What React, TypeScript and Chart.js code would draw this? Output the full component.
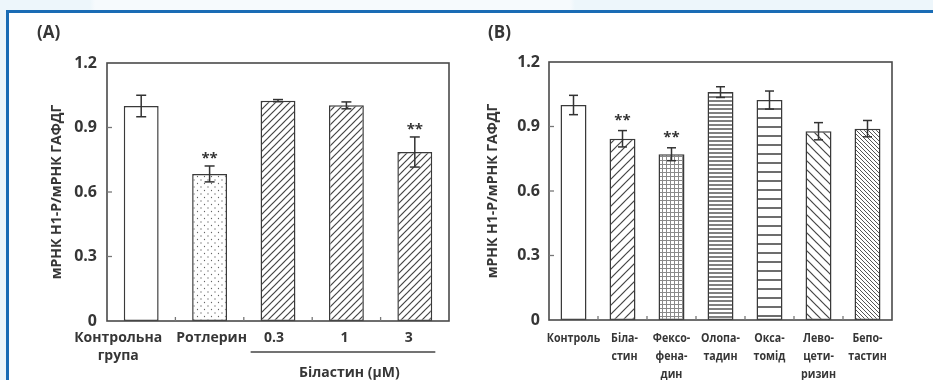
import React, { useEffect, useRef } from "react";
import { Chart, registerables } from "chart.js";
Chart.register(...registerables);

// ---------- data ----------
const catsA: (string | string[])[] = [["Контрольна", "група"], "Ротлерин", "0.3", "1", "3"];
const valsA = [1.0, 0.684, 1.025, 1.003, 0.786];
const errsA = [0.05, 0.037, 0.005, 0.016, 0.07];
const sigA = ["", "**", "", "", "**"];
const groupLabelA = "Біластин (µM)";
const titleA = "(A)";

const catsB: (string | string[])[] = [
  "Контроль",
  ["Біла-", "стин"],
  ["Фексо-", "фена-", "дин"],
  ["Олопа-", "тадин"],
  ["Окса-", "томід"],
  ["Лево-", "цети-", "ризин"],
  ["Бепо-", "тастин"],
];
const valsB = [1.0, 0.843, 0.771, 1.06, 1.023, 0.878, 0.89];
const errsB = [0.045, 0.038, 0.03, 0.025, 0.042, 0.04, 0.038];
const sigB = ["", "**", "**", "", "", "", ""];
const titleB = "(B)";

const yTicks = [0, 0.3, 0.6, 0.9, 1.2];
const yTickLabels = ["0", "0.3", "0.6", "0.9", "1.2"];
const yTitle = "мРНК H1-Р/мРНК ГАФДГ";

// ---------- styles ----------
const patternsA = ["none", "dots", "diag", "diag", "diag"];
const patternsB = ["none", "diag9", "grid", "hdense", "hsparse", "back", "backdense"];
const labelShiftA = [-23, 2, -4, -2, -6];
const labelShiftB = [0, 2, 0, 0, 0, 0, 0];

const INK = "#363636";
const FONT_WIDE = "'Open Sans', 'Noto Sans', 'DejaVu Sans', sans-serif";

function tile(w: number, h: number, draw: (ctx: CanvasRenderingContext2D) => void): CanvasPattern {
  const c = document.createElement("canvas");
  c.width = w;
  c.height = h;
  const ctx = c.getContext("2d")!;
  ctx.fillStyle = "#ffffff";
  ctx.fillRect(0, 0, w, h);
  draw(ctx);
  const main = document.createElement("canvas").getContext("2d")!;
  return main.createPattern(c, "repeat")!;
}

function seg(ctx: CanvasRenderingContext2D, x1: number, y1: number, x2: number, y2: number) {
  ctx.beginPath();
  ctx.moveTo(x1, y1);
  ctx.lineTo(x2, y2);
  ctx.stroke();
}

function makePattern(kind: string): CanvasPattern | string {
  const fwd = (s: number, lw: number, col: string) =>
    tile(s, s, (ctx) => {
      ctx.strokeStyle = col;
      ctx.lineWidth = lw;
      seg(ctx, -1, s + 1, s + 1, -1);
      seg(ctx, -1, 1, 1, -1);
      seg(ctx, s - 1, s + 1, s + 1, s - 1);
    });
  const back = (s: number, lw: number, col: string) =>
    tile(s, s, (ctx) => {
      ctx.strokeStyle = col;
      ctx.lineWidth = lw;
      seg(ctx, -1, -1, s + 1, s + 1);
      seg(ctx, -1, s - 1, 1, s + 1);
      seg(ctx, s - 1, -1, s + 1, 1);
    });
  switch (kind) {
    case "diag":
      return fwd(7, 1.2, "#444");
    case "diag9":
      return fwd(9, 1.2, "#444");
    case "back":
      return back(9, 1.2, "#444");
    case "backdense":
      return back(4, 1.0, "#555");
    case "grid":
      return tile(4, 4, (ctx) => {
        ctx.strokeStyle = "#8a8a8a";
        ctx.lineWidth = 1;
        seg(ctx, 0.5, 0, 0.5, 4);
        seg(ctx, 0, 0.5, 4, 0.5);
      });
    case "hdense":
      return tile(4, 4, (ctx) => {
        ctx.strokeStyle = "#3c3c3c";
        ctx.lineWidth = 1.3;
        seg(ctx, 0, 1, 4, 1);
      });
    case "hsparse":
      return tile(4, 9, (ctx) => {
        ctx.strokeStyle = "#3c3c3c";
        ctx.lineWidth = 1.5;
        seg(ctx, 0, 1, 4, 1);
      });
    case "dots":
      return tile(7, 7, (ctx) => {
        ctx.fillStyle = "#666";
        ctx.beginPath();
        ctx.arc(1.5, 1.5, 0.65, 0, Math.PI * 2);
        ctx.arc(5, 5, 0.65, 0, Math.PI * 2);
        ctx.fill();
      });
    default:
      return "#ffffff";
  }
}

type PanelOpts = {
  title: string;
  titleX: number;
  errs: number[];
  sig: string[];
  cap: number;
  sigGap: number;
  labelFont: string;
  labelScale: number;
  labelShift: number[];
  labelFirst: number;
  labelLine: number;
  group?: { label: string; from: number; to: number };
};

function decorPlugin(o: PanelOpts) {
  return {
    id: "decor",
    afterDatasetsDraw(chart: any) {
      const { ctx, chartArea: a, scales } = chart;
      const x = scales.x;
      const y = scales.y;
      const labels = chart.data.labels as (string | string[])[];
      const n = labels.length;
      const vals = chart.data.datasets[0].data as number[];
      ctx.save();
      ctx.strokeStyle = "#4a4a4a";
      ctx.lineWidth = 1.6;
      ctx.strokeRect(a.left, a.top, a.right - a.left, a.bottom - a.top);
      ctx.lineWidth = 1.3;
      ctx.strokeStyle = "#777";
      yTicks.forEach((v) => {
        if (v > yTicks[0] && v < yTicks[yTicks.length - 1]) {
          const py = y.getPixelForValue(v);
          seg(ctx, a.left, py, a.left + 5, py);
        }
      });
      for (let i = 1; i < n; i++) {
        const px = (x.getPixelForValue(i - 1) + x.getPixelForValue(i)) / 2;
        seg(ctx, px, a.bottom, px, a.bottom - 4);
      }
      // error bars
      ctx.strokeStyle = "#333";
      ctx.lineWidth = 1.5;
      const meta = chart.getDatasetMeta(0);
      meta.data.forEach((bar: any, i: number) => {
        const e = o.errs[i];
        const yt = y.getPixelForValue(vals[i] + e);
        const yb = y.getPixelForValue(vals[i] - e);
        const bx = bar.x;
        seg(ctx, bx, yt, bx, yb);
        seg(ctx, bx - o.cap, yt, bx + o.cap, yt);
        seg(ctx, bx - o.cap, yb, bx + o.cap, yb);
        if (o.sig[i]) {
          ctx.fillStyle = "#333";
          ctx.font = `bold 15px ${FONT_WIDE}`;
          ctx.textAlign = "center";
          ctx.textBaseline = "alphabetic";
          ctx.fillText(o.sig[i], bx, yt - o.sigGap);
        }
      });
      // category labels
      ctx.fillStyle = INK;
      ctx.font = o.labelFont;
      ctx.textAlign = "center";
      ctx.textBaseline = "middle";
      labels.forEach((lab, i) => {
        const lines = Array.isArray(lab) ? lab : [lab];
        const cx = x.getPixelForValue(i) + o.labelShift[i];
        lines.forEach((ln, k) => {
          ctx.save();
          ctx.translate(cx, a.bottom + o.labelFirst + k * o.labelLine);
          ctx.scale(o.labelScale, 1);
          ctx.fillText(ln, 0, 0);
          ctx.restore();
        });
      });
      // group bracket
      if (o.group) {
        const cw = x.getPixelForValue(1) - x.getPixelForValue(0);
        const x1 = x.getPixelForValue(o.group.from) - 0.4 * cw;
        const x2 = x.getPixelForValue(o.group.to) + 0.3 * cw;
        ctx.strokeStyle = "#444";
        ctx.lineWidth = 1.4;
        seg(ctx, x1, a.bottom + 31, x2, a.bottom + 31);
        ctx.fillStyle = INK;
        ctx.font = o.labelFont;
        ctx.textAlign = "center";
        ctx.textBaseline = "middle";
        ctx.fillText(o.group.label, x.getPixelForValue((o.group.from + o.group.to) / 2) + 3, a.bottom + 52);
      }
      // panel title
      ctx.fillStyle = INK;
      ctx.font = `bold 17px ${FONT_WIDE}`;
      ctx.textAlign = "left";
      ctx.textBaseline = "middle";
      ctx.fillText(o.title, o.titleX, 33);
      ctx.restore();
    },
  };
}

function buildConfig(
  labels: (string | string[])[],
  vals: number[],
  patterns: string[],
  p: {
    padRight: number;
    padTop: number;
    yWidth: number;
    xHeight: number;
    titlePad: number;
    tickPad: number;
    barPct: number;
  },
  decor: PanelOpts
): any {
  return {
    type: "bar",
    data: {
      labels,
      datasets: [
        {
          data: vals,
          backgroundColor: patterns.map(makePattern),
          borderColor: "#3a3a3a",
          borderWidth: 1.5,
          borderSkipped: false,
          barPercentage: p.barPct,
          categoryPercentage: 1,
        },
      ],
    },
    options: {
      responsive: false,
      animation: false,
      devicePixelRatio: 1,
      layout: { padding: { left: 0, right: p.padRight, top: p.padTop, bottom: 0 } },
      plugins: { legend: { display: false }, tooltip: { enabled: false }, title: { display: false } },
      scales: {
        x: {
          type: "category",
          offset: true,
          grid: { display: false, drawTicks: false },
          border: { display: false },
          ticks: { display: false },
          afterFit: (ax: any) => {
            ax.height = p.xHeight;
          },
        },
        y: {
          min: yTicks[0],
          max: yTicks[yTicks.length - 1],
          grid: { display: false, drawTicks: false },
          border: { display: false },
          afterBuildTicks: (ax: any) => {
            ax.ticks = yTicks.map((v) => ({ value: v }));
          },
          ticks: {
            color: INK,
            font: { family: FONT_WIDE, size: 16, weight: "bold" },
            padding: p.tickPad,
            callback: (_v: any, i: number) => yTickLabels[i],
          },
          title: {
            display: true,
            text: yTitle,
            color: INK,
            font: { family: FONT_WIDE, size: 14, weight: "bold" },
            padding: { top: p.titlePad, bottom: 0 },
          },
          afterFit: (ax: any) => {
            ax.width = p.yWidth;
          },
        },
      },
    },
    plugins: [decorPlugin(decor)],
  };
}

export default function App() {
  const refA = useRef<HTMLCanvasElement>(null);
  const refB = useRef<HTMLCanvasElement>(null);

  useEffect(() => {
    const chA = new Chart(
      refA.current!,
      buildConfig(
        catsA,
        valsA,
        patternsA,
        { padRight: 17, padTop: 63, yWidth: 107, xHeight: 59, titlePad: 48.6, tickPad: 10, barPct: 0.51 },
        {
          title: titleA,
          titleX: 37,
          errs: errsA,
          sig: sigA,
          cap: 5,
          sigGap: 3,
          labelFont: `bold 14px ${FONT_WIDE}`,
          labelScale: 1,
          labelShift: labelShiftA,
          labelFirst: 17,
          labelLine: 18,
          group: { label: groupLabelA, from: 2, to: 4 },
        }
      )
    );
    const chB = new Chart(
      refB.current!,
      buildConfig(
        catsB,
        valsB,
        patternsB,
        { padRight: 41, padTop: 62, yWidth: 83, xHeight: 60, titlePad: 18.6, tickPad: 9, barPct: 0.53 },
        {
          title: titleB,
          titleX: 22,
          errs: errsB,
          sig: sigB,
          cap: 4.5,
          sigGap: 6,
          labelFont: `bold 13px ${FONT_WIDE}`,
          labelScale: 0.82,
          labelShift: labelShiftB,
          labelFirst: 18,
          labelLine: 18,
        }
      )
    );
    return () => {
      chA.destroy();
      chB.destroy();
    };
  }, []);

  return (
    <div
      style={{
        position: "absolute",
        left: 0,
        top: 0,
        width: 933,
        height: 380,
        overflow: "hidden",
        background: "linear-gradient(to right, #edf6fb 0px, #edf6fb 90px, #f6fafd 95px, #f6fafd 570px, #edf6fb 575px)",
      }}
    >
      <div
        style={{
          position: "absolute",
          left: 6,
          top: 10,
          width: 927,
          height: 370,
          boxSizing: "border-box",
          background: "#ffffff",
          borderLeft: "3px solid #1a6cb5",
          borderTop: "3px solid #1a6cb5",
        }}
      />
      <canvas
        ref={refA}
        width={466}
        height={380}
        style={{ position: "absolute", left: 0, top: 0, width: 466, height: 380 }}
      />
      <canvas
        ref={refB}
        width={467}
        height={380}
        style={{ position: "absolute", left: 466, top: 0, width: 467, height: 380 }}
      />
    </div>
  );
}
